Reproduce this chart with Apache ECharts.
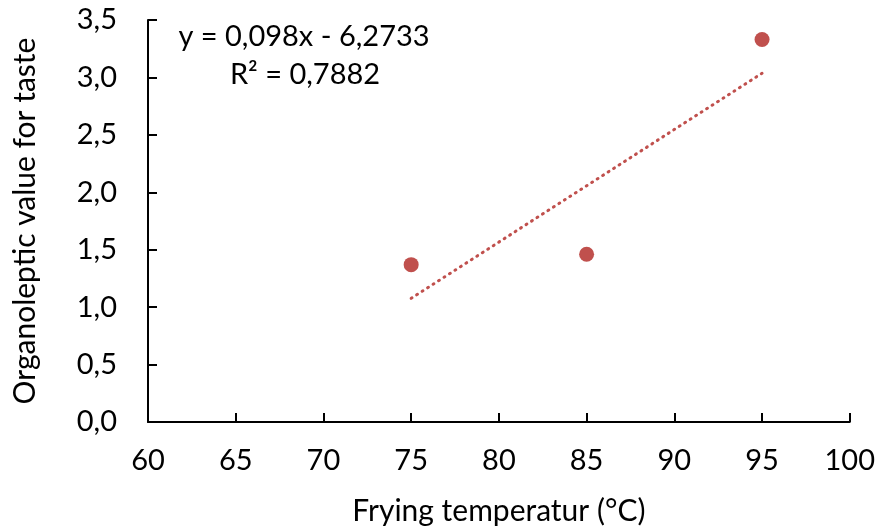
<!DOCTYPE html>
<html>
<head>
<meta charset="utf-8">
<script src="https://cdn.jsdelivr.net/npm/echarts@6/dist/echarts.min.js"></script>
<style>
	html, body { margin: 0; padding: 0; background: #fff; }
	#chart { width: 878px; height: 531px; }
</style>
</head>
<body>
<div id="chart"></div>
<script>
const fontName = "Lato, 'Open Sans', sans-serif";
const pointColour = "#C0504D";

// Frying temperature (°C) and organoleptic value for taste
const temperatures = [75, 85, 95];
const tasteValues = [1.37, 1.46, 3.33];

// Linear trend line, as printed on the chart
const trendSlope = 0.098;
const trendIntercept = -6.2733;
const trendRange = [75, 95];
const equationText = "y = 0,098x - 6,2733";
const rSquaredText = "R² = 0,7882";

function commaDecimal(v, digits) {
	return v.toFixed(digits).replace(".", ",");
}

const chartDom = document.getElementById("chart");
const myChart = echarts.init(chartDom);

const option = {
	animation: false,
	textStyle: { fontFamily: fontName },
	grid: { left: 148, right: 25, top: 20, bottom: 107 },
	xAxis: {
		type: "value",
		min: 60,
		max: 100,
		interval: 5,
		name: "Frying temperatur (°C)",
		nameLocation: "middle",
		nameGap: 74,
		nameTextStyle: { fontSize: 30, color: "#000", fontFamily: fontName },
		axisLine: { show: true, lineStyle: { color: "#000", width: 2 } },
		axisTick: { show: true, inside: true, length: 9, lineStyle: { color: "#000", width: 2 } },
		axisLabel: { fontSize: 29, color: "#000", margin: 24, fontFamily: fontName },
		splitLine: { show: false },
	},
	yAxis: {
		type: "value",
		min: 0,
		max: 3.5,
		interval: 0.5,
		name: "Organoleptic value for taste",
		nameLocation: "middle",
		nameGap: 108,
		nameTextStyle: { fontSize: 30, color: "#000", fontFamily: fontName },
		axisLine: { show: true, lineStyle: { color: "#000", width: 2 } },
		axisTick: { show: true, inside: true, length: 9, lineStyle: { color: "#000", width: 2 } },
		axisLabel: {
			fontSize: 29,
			color: "#000",
			margin: 31,
			fontFamily: fontName,
			formatter: (v) => commaDecimal(v, 1),
		},
		splitLine: { show: false },
	},
	graphic: [
		{
			type: "text",
			x: 304,
			y: 37,
			style: {
				text: equationText,
				fontSize: 29,
				fill: "#000",
				fontFamily: fontName,
				align: "center",
				verticalAlign: "middle",
			},
		},
		{
			type: "text",
			x: 305,
			y: 75,
			style: {
				text: rSquaredText,
				fontSize: 29,
				fill: "#000",
				fontFamily: fontName,
				align: "center",
				verticalAlign: "middle",
			},
		},
	],
	series: [
		{
			name: "trend",
			type: "line",
			data: trendRange.map((x) => [x, trendSlope * x + trendIntercept]),
			showSymbol: false,
			symbol: "none",
			lineStyle: { color: pointColour, width: 3, type: [1, 5.5], cap: "round" },
			z: 1,
		},
		{
			name: "taste",
			type: "scatter",
			data: temperatures.map((t, i) => [t, tasteValues[i]]),
			symbolSize: 15,
			itemStyle: { color: pointColour, opacity: 1 },
			z: 2,
		},
	],
};

myChart.setOption(option);
</script>
</body>
</html>
